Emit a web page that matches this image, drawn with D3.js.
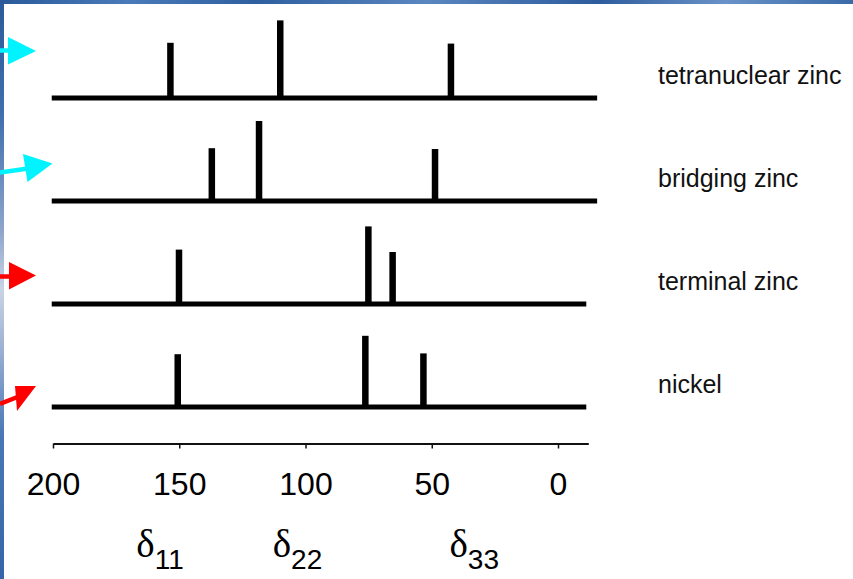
<!DOCTYPE html>
<html>
<head>
<meta charset="utf-8">
<script src="https://cdn.jsdelivr.net/npm/d3@7"></script>
<style>
  html, body { margin: 0; padding: 0; background: #ffffff; }
  svg { display: block; }
</style>
</head>
<body>
<svg id="chart" width="853" height="579"></svg>
<script>
// ---------------- DATA ----------------
const seriesNames = ["tetranuclear zinc", "bridging zinc", "terminal zinc", "nickel"];
// peak positions (ppm) for each series
const peakPpm = [
  [153.5, 110.0, 42.4],
  [137.1, 118.4, 48.7],
  [150.1, 75.1, 65.5],
  [150.6, 76.3, 53.3]
];
// relative peak intensities (arbitrary units, max = 1)
const peakIntensity = [
  [0.69, 0.97, 0.68],
  [0.66, 1.00, 0.65],
  [0.68, 0.97, 0.65],
  [0.66, 0.89, 0.67]
];
// baseline extent of each trace (ppm)
const traceStart = [200.5, 200.5, 200.5, 200.5];
const traceEnd = [-15.5, -15.5, -11.2, -11.2];
// axis
const axisDomain = [200, -12];
const tickValues = [200, 150, 100, 50, 0];
// tensor component labels (left edge position in ppm)
const deltaLabels = ["11", "22", "33"];
const deltaPpm = [167, 113, 43];
const arrowColors = ["#00f4ff", "#00f4ff", "#ff0000", "#ff0000"];

// ---------------- LAYOUT ----------------
const svg = d3.select("#chart");
const W = 853, H = 579;

const x = d3.scaleLinear().domain(axisDomain).range([53, 588.3]);
const rowY = d3.scalePoint().domain(seriesNames).range([98, 407]);
const h = d3.scaleLinear().domain([0, 1]).range([0, 80]);

// slide background border (blue texture)
const defs = svg.append("defs");
const gl = defs.append("linearGradient").attr("id", "gl").attr("x1", 0).attr("y1", 0).attr("x2", 0).attr("y2", 1);
[["0%", "#2a5a9a"], ["20%", "#3f6fae"], ["40%", "#8fa6cc"], ["50%", "#c9d4e4"], ["60%", "#9db2d4"], ["75%", "#4a78b6"], ["100%", "#3565a8"]]
  .forEach(s => gl.append("stop").attr("offset", s[0]).attr("stop-color", s[1]));
const gt = defs.append("linearGradient").attr("id", "gt").attr("x1", 0).attr("y1", 0).attr("x2", 1).attr("y2", 0);
[["0%", "#2a5a9a"], ["15%", "#4a7ab8"], ["30%", "#2f5f9f"], ["50%", "#5a86c0"], ["70%", "#2e5c9c"], ["85%", "#6a92c8"], ["100%", "#3a6aa8"]]
  .forEach(s => gt.append("stop").attr("offset", s[0]).attr("stop-color", s[1]));
svg.append("rect").attr("x", 0).attr("y", 0).attr("width", W).attr("height", 4).attr("fill", "url(#gt)");
svg.append("rect").attr("x", 0).attr("y", 0).attr("width", 4).attr("height", H).attr("fill", "url(#gl)");

// ---------------- TRACES ----------------
const rows = svg.append("g").selectAll("g.row")
  .data(seriesNames.map((name, i) => ({ name, i })))
  .join("g")
  .attr("class", "row")
  .attr("transform", d => `translate(0,${rowY(d.name)})`);

rows.append("line")
  .attr("x1", d => x(traceStart[d.i]))
  .attr("x2", d => x(traceEnd[d.i]))
  .attr("y1", 0).attr("y2", 0)
  .attr("stroke", "#000").attr("stroke-width", 5);

rows.selectAll("rect.peak")
  .data(d => peakPpm[d.i].map((p, j) => ({ p, v: peakIntensity[d.i][j] })))
  .join("rect")
  .attr("class", "peak")
  .attr("x", d => x(d.p) - 3.25)
  .attr("width", 6.5)
  .attr("y", d => -h(d.v))
  .attr("height", d => h(d.v))
  .attr("fill", "#000");

rows.append("text")
  .attr("x", 658)
  .attr("y", -14)
  .attr("font-family", "'Liberation Sans', Arial, Helvetica, sans-serif")
  .attr("font-size", 25)
  .attr("fill", "#111")
  .text(d => d.name);

// ---------------- AXIS ----------------
const axisG = svg.append("g")
  .attr("transform", "translate(0,443.5)")
  .call(d3.axisBottom(x).tickValues(tickValues).tickFormat(d3.format("d"))
    .tickSizeInner(5).tickSizeOuter(0).tickPadding(24));
axisG.select(".domain").attr("stroke", "#111").attr("stroke-width", 2.2);
axisG.selectAll(".tick line").attr("stroke", "#111").attr("stroke-width", 1.5);
axisG.selectAll(".tick text")
  .attr("font-family", "'Liberation Sans', Arial, Helvetica, sans-serif")
  .attr("font-size", 32)
  .attr("fill", "#000");

// ---------------- δ LABELS ----------------
const dl = svg.append("g").selectAll("text")
  .data(deltaLabels.map((s, i) => ({ s, p: deltaPpm[i] })))
  .join("text")
  .attr("x", d => x(d.p))
  .attr("y", 557)
  .attr("fill", "#000");
dl.append("tspan")
  .attr("font-family", "'Liberation Serif', 'Times New Roman', serif")
  .attr("font-size", 39)
  .text("δ");
dl.append("tspan")
  .attr("font-family", "'Liberation Sans', Arial, sans-serif")
  .attr("font-size", 28)
  .attr("dy", 12)
  .text(d => d.s);

// ---------------- ARROWS (annotations) ----------------
const arrows = [
  { shaft: [[0, 50.5], [12, 50.5]], head: [[8, 37], [36, 51], [8, 64.5]] },
  { shaft: [[0, 172.5], [28, 168.5]], head: [[23, 154], [52.5, 163.5], [27.5, 182]] },
  { shaft: [[0, 276.5], [12, 276.5]], head: [[9, 262], [36, 275.5], [9, 289.5]] },
  { shaft: [[0, 404], [20, 396]], head: [[15, 386], [36, 386], [17, 411]] }
];
const ag = svg.append("g").selectAll("g")
  .data(arrows.map((a, i) => ({ ...a, c: arrowColors[i] })))
  .join("g");
ag.append("line")
  .attr("x1", d => d.shaft[0][0]).attr("y1", d => d.shaft[0][1])
  .attr("x2", d => d.shaft[1][0]).attr("y2", d => d.shaft[1][1])
  .attr("stroke", d => d.c).attr("stroke-width", 4.5);
ag.append("polygon")
  .attr("points", d => d.head.map(p => p.join(",")).join(" "))
  .attr("fill", d => d.c);
</script>
</body>
</html>
